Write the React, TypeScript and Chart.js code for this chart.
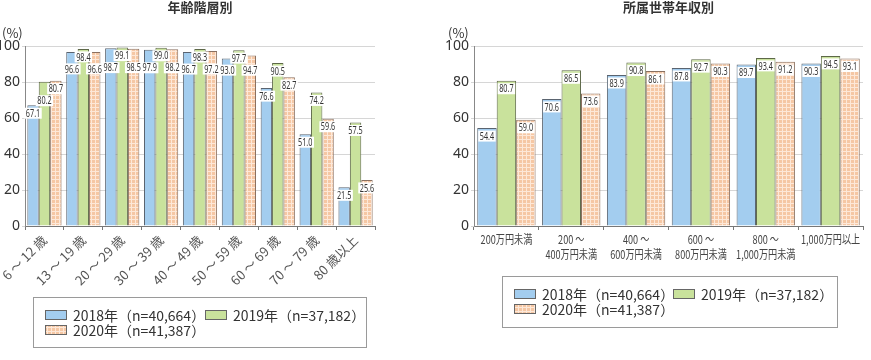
import React, { useEffect, useRef } from "react";
import { Chart, registerables } from "chart.js";

Chart.register(...registerables);

const ageCategories = ["6 ～ 12 歳", "13 ～ 19 歳", "20 ～ 29 歳", "30 ～ 39 歳", "40 ～ 49 歳", "50 ～ 59 歳", "60 ～ 69 歳", "70 ～ 79 歳", "80 歳以上"];
const age2018 = [67.1, 96.6, 98.7, 97.9, 96.7, 93.0, 76.6, 51.0, 21.5];
const age2019 = [80.2, 98.4, 99.1, 99.0, 98.3, 97.7, 90.5, 74.2, 57.5];
const age2020 = [80.7, 96.6, 98.5, 98.2, 97.2, 94.7, 82.7, 59.6, 25.6];

const incomeCategories: (string | string[])[] = [
  "200万円未満",
  ["200 ～", "400万円未満"],
  ["400 ～", "600万円未満"],
  ["600 ～", "800万円未満"],
  ["800 ～", "1,000万円未満"],
  "1,000万円以上",
];
const income2018 = [54.4, 70.6, 83.9, 87.8, 89.7, 90.3];
const income2019 = [80.7, 86.5, 90.8, 92.7, 93.4, 94.5];
const income2020 = [59.0, 73.6, 86.1, 90.3, 91.2, 93.1];

const seriesLabels = ["2018年（n=40,664）", "2019年（n=37,182）", "2020年（n=41,387）"];
const yTicks = [0, 20, 40, 60, 80, 100];

const BLUE = "#a3cdef";
const GREEN = "#c9e29c";
const PEACH = "#f5c7a4";
const TEXT = "#333333";
const FONT = "'Noto Sans CJK JP', 'Noto Sans', sans-serif";

function makePattern(): CanvasPattern | string {
  const c = document.createElement("canvas");
  c.width = 4;
  c.height = 4;
  const g = c.getContext("2d");
  if (!g) return PEACH;
  g.fillStyle = PEACH;
  g.fillRect(0, 0, 4, 4);
  g.fillStyle = "#fde8d8";
  g.fillRect(3, 0, 1, 4);
  g.fillRect(0, 3, 4, 1);
  const p = g.createPattern(c, "repeat");
  return p || PEACH;
}

type LegendSpec = {
  box: [number, number, number, number];
  items: [number, number][];
};

type ChartSpec = {
  title: string;
  categories: (string | string[])[];
  d18: number[];
  d19: number[];
  d20: number[];
  yWidth: number;
  padRight: number;
  rotate: boolean;
  catPct: number;
  legend: LegendSpec;
  unitX: number;
};

function buildChart(canvas: HTMLCanvasElement, spec: ChartSpec) {
  const pattern = makePattern();
  const fills = [BLUE, GREEN, pattern];
  const borders = ["#5a6470", "#5d6848", "#8a7060"];
  const datasets = [spec.d18, spec.d19, spec.d20].map((d, i) => ({
    label: seriesLabels[i],
    data: d,
    backgroundColor: fills[i] as any,
    borderColor: borders[i],
    borderWidth: 1,
    barPercentage: 1,
    categoryPercentage: spec.catPct,
  }));

  const labelPlugin = {
    id: "barLabels",
    afterDatasetsDraw(chart: any) {
      const ctx = chart.ctx as CanvasRenderingContext2D;
      const n = spec.categories.length;
      ctx.save();
      ctx.font = `11px 'Noto Sans', sans-serif`;
      const sx = 0.66;
      const h = 11;
      for (let i = 0; i < n; i++) {
        const bars: any[] = [];
        for (let d = 0; d < 3; d++) {
          const el = chart.getDatasetMeta(d).data[i];
          const v = chart.data.datasets[d].data[i];
          bars.push({ x: el.x, top: el.y, v });
        }
        const order = [...bars].sort((a, b) => b.v - a.v);
        const placed: any[] = [];
        for (const b of order) {
          const txt = b.v.toFixed(1);
          const w = ctx.measureText(txt).width * sx + 3;
          let y = b.top + 8;
          let moved = true;
          let guard = 0;
          while (moved && guard < 10) {
            moved = false;
            guard++;
            for (const p of placed) {
              if (Math.abs(p.x - b.x) < (p.w + w) / 2 && Math.abs(p.y - y) < h) {
                y = p.y + h + 1;
                moved = true;
              }
            }
          }
          placed.push({ x: b.x, y, w });
          ctx.fillStyle = "#ffffff";
          ctx.fillRect(b.x - w / 2, y - h / 2, w, h);
          ctx.save();
          ctx.translate(b.x, y + 0.5);
          ctx.scale(sx, 1);
          ctx.fillStyle = TEXT;
          ctx.textAlign = "center";
          ctx.textBaseline = "middle";
          ctx.fillText(txt, 0, 0);
          ctx.restore();
        }
      }
      ctx.restore();
    },
  };

  const decoPlugin = {
    id: "deco",
    afterDraw(chart: any) {
      const ctx = chart.ctx as CanvasRenderingContext2D;
      const ca = chart.chartArea;
      ctx.save();
      ctx.fillStyle = TEXT;
      ctx.font = `bold 13px ${FONT}`;
      ctx.textAlign = "center";
      ctx.textBaseline = "middle";
      ctx.fillText(spec.title, (ca.left + ca.right) / 2, 7);
      ctx.font = `13px ${FONT}`;
      ctx.textAlign = "left";
      ctx.fillText("(%)", spec.unitX, 33);
      if (!spec.rotate) {
        ctx.font = `12px ${FONT}`;
        ctx.fillStyle = "#444";
        ctx.textAlign = "center";
        ctx.textBaseline = "middle";
        spec.categories.forEach((cat, i) => {
          const x = chart.scales.x.getPixelForValue(i);
          const lines = Array.isArray(cat) ? cat : [cat];
          lines.forEach((ln, li) => {
            ctx.save();
            ctx.translate(x, ca.bottom + 13 + li * 15);
            ctx.scale(0.76, 1);
            ctx.fillText(ln, 0, 0);
            ctx.restore();
          });
        });
      }
      const [bx, by, bw, bh] = spec.legend.box;
      ctx.strokeStyle = "#9a9a9a";
      ctx.lineWidth = 1;
      ctx.strokeRect(bx + 0.5, by + 0.5, bw, bh);
      ctx.font = `14px ${FONT}`;
      ctx.textAlign = "left";
      spec.legend.items.forEach(([ix, iy], k) => {
        ctx.fillStyle = fills[k] as any;
        ctx.fillRect(ix, iy - 5, 22, 10);
        ctx.strokeStyle = "#666666";
        ctx.strokeRect(ix + 0.5, iy - 5 + 0.5, 21, 9);
        ctx.fillStyle = TEXT;
        ctx.textBaseline = "middle";
        ctx.fillText(seriesLabels[k], ix + 28, iy + 1);
      });
      ctx.restore();
    },
  };

  return new Chart(canvas, {
    type: "bar",
    data: { labels: spec.categories as any, datasets: datasets as any },
    options: {
      responsive: false,
      animation: false,
      layout: { padding: { top: 46, right: spec.padRight, left: 0, bottom: 0 } },
      plugins: { legend: { display: false }, tooltip: { enabled: false }, title: { display: false } },
      scales: {
        x: {
          grid: { display: true, drawOnChartArea: false, drawTicks: true, tickLength: 4, color: "#777", offset: true },
          border: { display: true, color: "#777" },
          ticks: {
            display: spec.rotate,
            autoSkip: false,
            maxRotation: spec.rotate ? 45 : 0,
            minRotation: spec.rotate ? 45 : 0,
            color: "#555",
            padding: 2,
            font: { family: FONT, size: 13, lineHeight: 1.25 },
          },
          afterFit(scale: any) {
            scale.height = 134;
            scale.paddingLeft = 0;
            scale.paddingRight = 0;
          },
        },
        y: {
          min: 0,
          max: 100,
          afterBuildTicks(scale: any) {
            scale.ticks = yTicks.map((v) => ({ value: v }));
          },
          grid: { color: "#d6d6d6", tickLength: 3 },
          border: { display: true, color: "#888" },
          ticks: { color: TEXT, padding: 2, font: { family: "'Noto Sans', sans-serif", size: 14 } },
          afterFit(scale: any) {
            scale.width = spec.yWidth;
          },
        },
      },
    } as any,
    plugins: [labelPlugin, decoPlugin],
  });
}

function ChartBox(props: { spec: ChartSpec; left: number; width: number }) {
  const ref = useRef<HTMLCanvasElement>(null);
  useEffect(() => {
    if (!ref.current) return;
    const c = buildChart(ref.current, props.spec);
    return () => c.destroy();
  }, []);
  return (
    <div style={{ position: "absolute", left: props.left, top: 0, width: props.width, height: 360 }}>
      <canvas ref={ref} width={props.width} height={360} style={{ display: "block" }} />
    </div>
  );
}

const ageSpec: ChartSpec = {
  title: "年齢階層別",
  categories: ageCategories,
  d18: age2018,
  d19: age2019,
  d20: age2020,
  yWidth: 25,
  padRight: 60,
  rotate: true,
  catPct: 0.88,
  unitX: 2,
  legend: { box: [33, 297, 333, 50], items: [[45, 315], [205, 315], [45, 330]] },
};

const incomeSpec: ChartSpec = {
  title: "所属世帯年収別",
  categories: incomeCategories,
  d18: income2018,
  d19: income2019,
  d20: income2020,
  yWidth: 39,
  padRight: 8,
  rotate: false,
  catPct: 0.9,
  unitX: 13,
  legend: { box: [67, 276, 335, 51], items: [[79, 294], [238, 294], [79, 309]] },
};

export default function App() {
  return (
    <div style={{ position: "absolute", left: 0, top: 0, width: 871, height: 360, background: "#fff" }}>
      <ChartBox spec={ageSpec} left={0} width={435} />
      <ChartBox spec={incomeSpec} left={435} width={436} />
    </div>
  );
}
